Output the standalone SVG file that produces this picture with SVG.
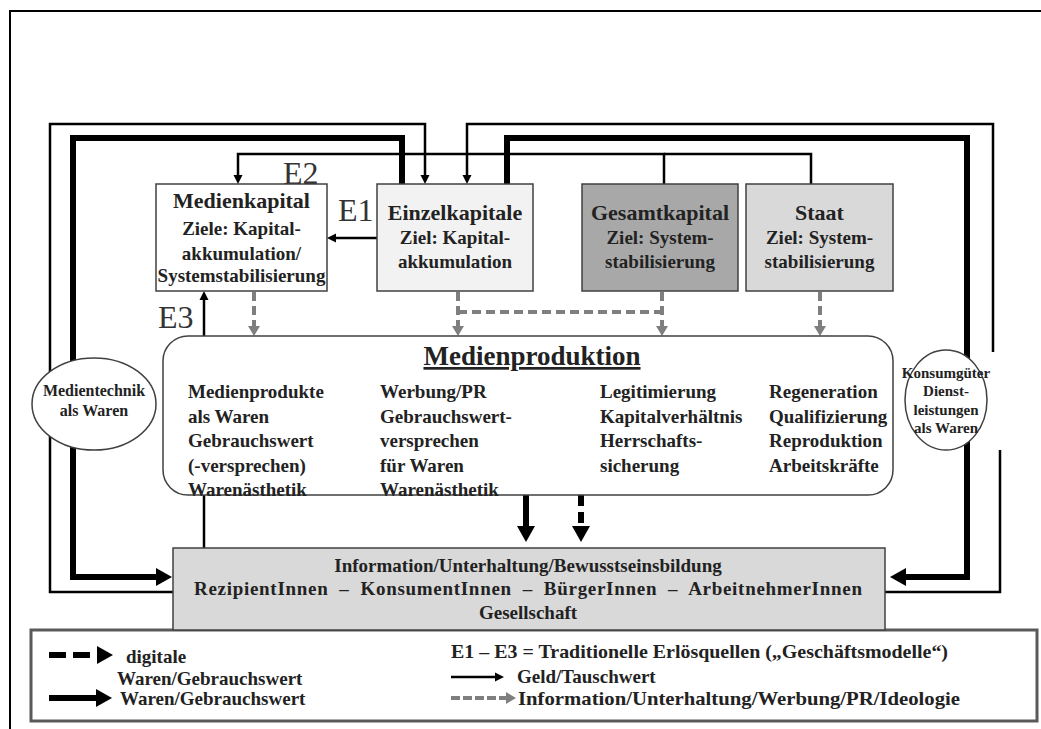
<svg xmlns="http://www.w3.org/2000/svg" width="1041" height="729" viewBox="0 0 1041 729">
<style>
.t{font-family:"Liberation Serif","Times New Roman",serif;font-weight:bold;fill:#222}
.ti{font-size:22px;text-anchor:middle}
.b{font-size:19px}
.c{text-anchor:middle}
.e{font-family:"Liberation Serif","Times New Roman",serif;font-size:32px;fill:#333}
.box{stroke:#404040;stroke-width:1.5}
.thin{fill:none;stroke:#000;stroke-width:2.5;stroke-linejoin:miter}
.thick{fill:none;stroke:#000;stroke-width:6;stroke-linejoin:miter}
.gray{fill:none;stroke:#7f7f7f;stroke-width:4;stroke-dasharray:9 5}
.tdash{fill:none;stroke:#000;stroke-width:6;stroke-dasharray:11 6}
</style>
<defs>
<marker id="aThin" markerUnits="userSpaceOnUse" viewBox="0 0 10 10" markerWidth="10" markerHeight="10" refX="0" refY="5" orient="auto"><path d="M0,0.5 L9,5 L0,9.5z" fill="#000"/></marker>
<marker id="aThick" markerUnits="userSpaceOnUse" viewBox="0 0 16 18" markerWidth="16" markerHeight="18" refX="0" refY="9" orient="auto"><path d="M0,0 L16,9 L0,18z" fill="#000"/></marker>
<marker id="aGray" markerUnits="userSpaceOnUse" viewBox="0 0 10 12" markerWidth="10" markerHeight="12" refX="0" refY="6" orient="auto"><path d="M0,0 L10,6 L0,12z" fill="#7f7f7f"/></marker>
</defs>
<rect width="1041" height="729" fill="#fff"/>
<path d="M10 729 V11 H1041" fill="none" stroke="#000" stroke-width="2"/>

<g id="connectors">
<path class="thin" d="M180 592 H50 V124 H425 V175" marker-end="url(#aThin)"/>
<path class="thin" d="M880 592 H1000 V450"/>
<path class="thin" d="M993 352 V124 H467 V175" marker-end="url(#aThin)"/>
<path class="thick" d="M402 184 V138 H73 V577 H156" marker-end="url(#aThick)"/>
<path class="thick" d="M507 184 V138 H967 V577 H906" marker-end="url(#aThick)"/>
<path class="thin" d="M664 184 V154 H238 V175" marker-end="url(#aThin)"/>
<path class="thin" d="M811 184 V154 H664"/>
<path class="thin" d="M377 238 H336" marker-end="url(#aThin)"/>
<path class="thin" d="M204 548 V300" marker-end="url(#aThin)"/>
<path class="gray" d="M254 292 V326" marker-end="url(#aGray)"/>
<path class="gray" d="M458 292 V326" marker-end="url(#aGray)"/>
<path class="gray" d="M458 312 H662"/>
<path class="gray" d="M662 292 V326" marker-end="url(#aGray)"/>
<path class="gray" d="M820 292 V326" marker-end="url(#aGray)"/>
<path class="thick" d="M526 495 V526" marker-end="url(#aThick)"/>
<path class="tdash" d="M581 495 V526" marker-end="url(#aThick)"/>
</g>

<text class="e" x="283" y="184">E2</text>
<text class="e" x="338" y="221">E1</text>
<text class="e" x="158" y="328">E3</text>

<g id="medienkapital">
<rect class="box" x="156" y="184" width="171" height="107" fill="#fff"/>
<text class="t ti" x="241.5" y="208">Medienkapital</text>
<text class="t b c" x="241.5" y="235">Ziele: Kapital-</text>
<text class="t b c" x="241.5" y="260">akkumulation/</text>
<text class="t b c" x="241.5" y="282">Systemstabilisierung</text>
</g>

<g id="einzelkapitale">
<rect class="box" x="377" y="184" width="156" height="107" fill="#f2f2f2"/>
<text class="t ti" x="455" y="220">Einzelkapitale</text>
<text class="t b c" x="455" y="244">Ziel: Kapital-</text>
<text class="t b c" x="455" y="268">akkumulation</text>
</g>

<g id="gesamtkapital">
<rect class="box" x="582" y="184" width="156" height="107" fill="#a8a8a8"/>
<text class="t ti" x="660" y="220">Gesamtkapital</text>
<text class="t b c" x="660" y="244">Ziel: System-</text>
<text class="t b c" x="660" y="268">stabilisierung</text>
</g>

<g id="staat">
<rect class="box" x="746" y="184" width="147" height="107" fill="#d9d9d9"/>
<text class="t ti" x="819.5" y="220">Staat</text>
<text class="t b c" x="819.5" y="244">Ziel: System-</text>
<text class="t b c" x="819.5" y="268">stabilisierung</text>
</g>

<g id="medienproduktion">
<rect class="box" x="163" y="336" width="730" height="159" rx="25" fill="#fff"/>
<text class="t c" x="532" y="365" font-size="27" text-decoration="underline">Medienproduktion</text>
<text class="t b" x="188" y="398">Medienprodukte</text>
<text class="t b" x="188" y="422.5">als Waren</text>
<text class="t b" x="188" y="447">Gebrauchswert</text>
<text class="t b" x="188" y="471.5">(-versprechen)</text>
<text class="t b" x="188" y="496">Warenästhetik</text>
<text class="t b" x="380" y="398">Werbung/PR</text>
<text class="t b" x="380" y="422.5">Gebrauchswert-</text>
<text class="t b" x="380" y="447">versprechen</text>
<text class="t b" x="380" y="471.5">für Waren</text>
<text class="t b" x="380" y="496">Warenästhetik</text>
<text class="t b" x="600" y="398">Legitimierung</text>
<text class="t b" x="600" y="422.5">Kapitalverhältnis</text>
<text class="t b" x="600" y="447">Herrschafts-</text>
<text class="t b" x="600" y="471.5">sicherung</text>
<text class="t b" x="769" y="398">Regeneration</text>
<text class="t b" x="769" y="422.5">Qualifizierung</text>
<text class="t b" x="769" y="447">Reproduktion</text>
<text class="t b" x="769" y="471.5">Arbeitskräfte</text>
</g>

<g id="medientechnik">
<ellipse cx="94" cy="404" rx="62" ry="46" fill="#fff" stroke="#404040" stroke-width="1.5"/>
<text class="t c" x="94" y="396" font-size="16">Medientechnik</text>
<text class="t c" x="94" y="416" font-size="16">als Waren</text>
</g>

<g id="konsumgueter">
<ellipse cx="946" cy="400" rx="41" ry="50" fill="#fff" stroke="#404040" stroke-width="1.5"/>
<text class="t c" x="946" y="378" font-size="15">Konsumgüter</text>
<text class="t c" x="946" y="396" font-size="15">Dienst-</text>
<text class="t c" x="946" y="415" font-size="15">leistungen</text>
<text class="t c" x="946" y="433" font-size="15">als Waren</text>
</g>

<g id="legende">
<rect x="31" y="630" width="1006" height="91" fill="#fff" stroke="#5a5a5a" stroke-width="3"/>
<path class="tdash" d="M49 655 H97" style="stroke-dasharray:17 7" marker-end="url(#aThick)"/>
<text class="t b" x="126" y="663">digitale</text>
<text class="t b" x="117" y="685">Waren/Gebrauchswert</text>
<path class="thick" d="M49 698 H96" marker-end="url(#aThick)"/>
<text class="t b" x="120" y="705">Waren/Gebrauchswert</text>
<text class="t b" x="451" y="658" textLength="497" lengthAdjust="spacingAndGlyphs">E1 – E3 = Traditionelle Erlösquellen („Geschäftsmodelle“)</text>
<path class="thin" d="M451 677 H495" marker-end="url(#aThin)"/>
<text class="t b" x="517" y="683">Geld/Tauschwert</text>
<path class="gray" d="M451 698 H506" style="stroke-dasharray:9 3" marker-end="url(#aGray)"/>
<text class="t b" x="518" y="705" textLength="442" lengthAdjust="spacingAndGlyphs">Information/Unterhaltung/Werbung/PR/Ideologie</text>
</g>

<g id="gesellschaft">
<rect class="box" x="173" y="548" width="712" height="82" fill="#d9d9d9"/>
<text class="t b c" x="528" y="572">Information/Unterhaltung/Bewusstseinsbildung</text>
<text class="t b" x="194" y="595" textLength="668" lengthAdjust="spacing" style="white-space:pre">RezipientInnen  –  KonsumentInnen  –  BürgerInnen  –  ArbeitnehmerInnen</text>
<text class="t b c" x="528" y="619">Gesellschaft</text>
</g>
</svg>
